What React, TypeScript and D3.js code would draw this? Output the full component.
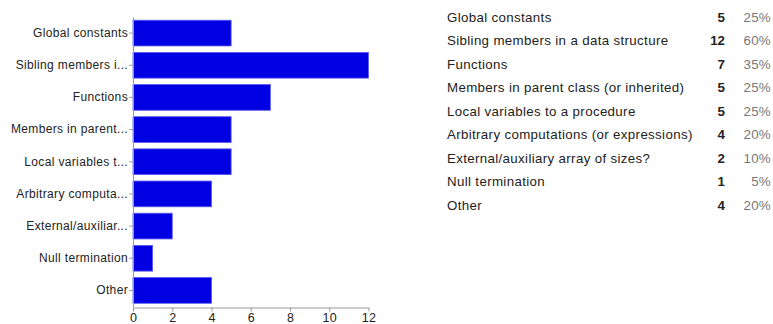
import { useEffect, useRef } from "react";
import * as d3 from "d3";

const categories = [
  "Global constants",
  "Sibling members in a data structure",
  "Functions",
  "Members in parent class (or inherited)",
  "Local variables to a procedure",
  "Arbitrary computations (or expressions)",
  "External/auxiliary array of sizes?",
  "Null termination",
  "Other",
];
const shortLabels = [
  "Global constants",
  "Sibling members i...",
  "Functions",
  "Members in parent...",
  "Local variables t...",
  "Arbitrary computa...",
  "External/auxiliar...",
  "Null termination",
  "Other",
];
const counts = [5, 12, 7, 5, 5, 4, 2, 1, 4];
const percents = ["25%", "60%", "35%", "25%", "25%", "20%", "10%", "5%", "20%"];
const xTicks = [0, 2, 4, 6, 8, 10, 12];

const W = 773;
const H = 324;
const font = "Arial, 'Liberation Sans', sans-serif";

export default function App() {
  const ref = useRef<SVGSVGElement>(null);

  useEffect(() => {
    const svg = d3.select(ref.current);
    svg.selectAll("*").remove();

    const x = d3.scaleLinear().domain([0, 12]).range([133, 368.5]);
    const y = d3
      .scaleBand()
      .domain(categories)
      .range([17, 306.5])
      .paddingInner(0.2)
      .paddingOuter(0.1);

    const chart = svg.append("g");

    chart
      .selectAll("rect")
      .data(categories)
      .join("rect")
      .attr("x", x(0))
      .attr("y", (d) => y(d)!)
      .attr("width", (d, i) => x(counts[i]) - x(0))
      .attr("height", y.bandwidth())
      .attr("fill", "#0000e3")
      .attr("stroke", "#5a5af0")
      .attr("stroke-width", 0.8);

    const xAxis = chart
      .append("g")
      .attr("transform", "translate(0,307.5)")
      .call(d3.axisBottom(x).tickValues(xTicks).tickSize(4).tickPadding(2).tickSizeOuter(0));
    xAxis.select(".domain").attr("stroke", "#999");
    xAxis.selectAll(".tick line").attr("stroke", "#999");
    xAxis
      .selectAll("text")
      .attr("fill", "#222")
      .attr("font-family", font)
      .attr("font-size", 12.5)
      .attr("letter-spacing", 0.3);

    const yAxis = chart
      .append("g")
      .attr("transform", "translate(133,0)")
      .call(
        d3
          .axisLeft(y)
          .tickSize(4)
          .tickPadding(1)
          .tickSizeOuter(0)
          .tickFormat((d, i) => shortLabels[i])
      );
    yAxis.select(".domain").attr("stroke", "#999");
    yAxis.selectAll(".tick line").attr("stroke", "#999");
    yAxis
      .selectAll("text")
      .attr("fill", "#222")
      .attr("font-family", font)
      .attr("font-size", 12)
      .attr("letter-spacing", 0.35);

    // table on the right
    const rowY = d3
      .scalePoint()
      .domain(categories)
      .range([17.3, 205]);

    const rows = svg
      .append("g")
      .selectAll("g")
      .data(categories)
      .join("g")
      .attr("transform", (d) => `translate(0,${rowY(d)})`);

    rows
      .append("text")
      .attr("x", 447)
      .attr("dy", "0.35em")
      .attr("font-family", font)
      .attr("font-size", 13.3)
      .attr("letter-spacing", 0.35)
      .attr("fill", "#222")
      .text((d) => d);

    rows
      .append("text")
      .attr("x", 725)
      .attr("dy", "0.35em")
      .attr("text-anchor", "end")
      .attr("font-family", font)
      .attr("font-size", 13.3)
      .attr("font-weight", "bold")
      .attr("fill", "#222")
      .text((d, i) => counts[i]);

    rows
      .append("text")
      .attr("x", 771)
      .attr("dy", "0.35em")
      .attr("text-anchor", "end")
      .attr("font-family", font)
      .attr("font-size", 13.3)
      .attr("letter-spacing", 0.3)
      .attr("fill", "#777")
      .text((d, i) => percents[i]);
  }, []);

  return (
    <div style={{ position: "absolute", left: 0, top: 0 }}>
      <svg ref={ref} width={W} height={H} style={{ display: "block", background: "#fff" }} />
    </div>
  );
}
